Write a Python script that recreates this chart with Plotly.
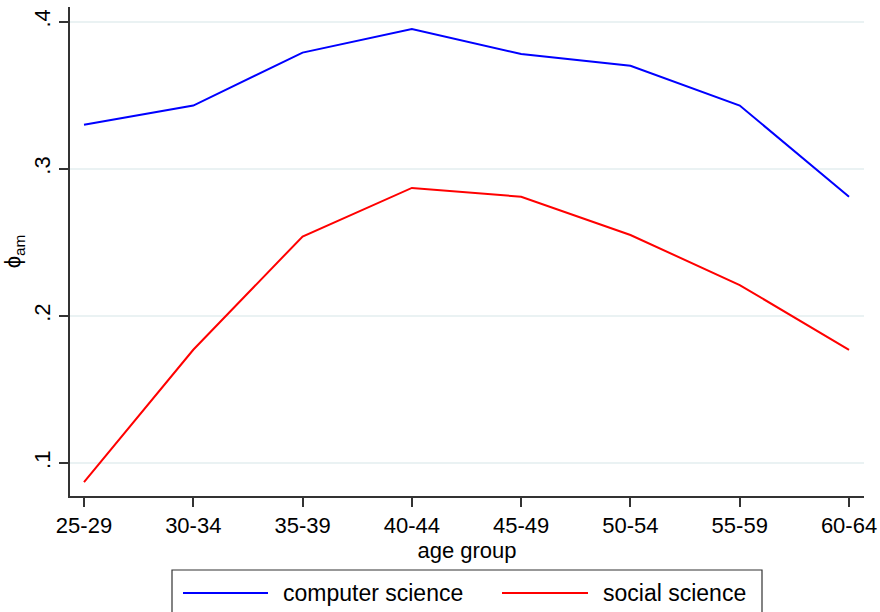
import plotly.graph_objects as go

age_groups = ["25-29", "30-34", "35-39", "40-44", "45-49", "50-54", "55-59", "60-64"]
computer_science = [0.330, 0.343, 0.379, 0.395, 0.378, 0.370, 0.343, 0.281]
social_science = [0.087, 0.177, 0.254, 0.287, 0.281, 0.255, 0.221, 0.177]
y_ticks = [0.1, 0.2, 0.3, 0.4]
y_tick_labels = [".1", ".2", ".3", ".4"]

W, H = 880, 612
L, R, T, B = 70, 16, 7, 116
FONT = "Liberation Sans, Arial, Helvetica, sans-serif"


def px(x):
    return (x - L) / (W - L - R)


def py(y):
    return (H - B - y) / (H - T - B)


fig = go.Figure()
fig.add_trace(go.Scatter(x=age_groups, y=computer_science, mode="lines",
                         name="computer science", line=dict(color="#0000ff", width=2),
                         showlegend=False))
fig.add_trace(go.Scatter(x=age_groups, y=social_science, mode="lines",
                         name="social science", line=dict(color="#ff0000", width=2),
                         showlegend=False))

# legend box drawn below the axis
fig.add_shape(type="rect", xref="paper", yref="paper",
              x0=px(172), x1=px(762), y0=py(570), y1=py(625),
              line=dict(color="#333333", width=1.2), fillcolor="white")
for name, color, lx0, lx1, tx in [("computer science", "#0000ff", 183, 268, 281),
                                  ("social science", "#ff0000", 502, 588, 601)]:
    fig.add_shape(type="line", xref="paper", yref="paper",
                  x0=px(lx0), x1=px(lx1), y0=py(593), y1=py(593),
                  line=dict(color=color, width=2))
    fig.add_annotation(xref="paper", yref="paper", x=px(tx), y=py(593),
                       text=name, showarrow=False, xanchor="left", yanchor="middle",
                       font=dict(family=FONT, size=23, color="black"))

fig.update_layout(
    width=W, height=H,
    margin=dict(l=L, r=R, t=T, b=B),
    paper_bgcolor="white", plot_bgcolor="white",
    font=dict(family=FONT, color="black"),
    showlegend=False,
    xaxis=dict(
        type="category", range=[-0.128, 7.137], automargin=False,
        showline=True, linecolor="#333333", linewidth=1.5,
        ticks="outside", ticklen=9, tickcolor="#333333", tickwidth=1.5,
        showgrid=False, zeroline=False,
        tickfont=dict(size=22, family=FONT),
        title=dict(text="age group", font=dict(size=22, family=FONT), standoff=2),
    ),
    yaxis=dict(
        range=[0.0776, 0.410], automargin=False,
        tickvals=y_ticks, ticktext=y_tick_labels, tickangle=-90,
        showline=True, linecolor="#333333", linewidth=1.5,
        ticks="outside", ticklen=9, tickcolor="#333333", tickwidth=1.5,
        showgrid=True, gridcolor="#eaf2f3", gridwidth=1.5, zeroline=False,
        tickfont=dict(size=22, family=FONT),
        title=dict(text="ϕ<sub>am</sub>", font=dict(size=22, family=FONT), standoff=6),
    ),
)

fig.write_html("out.html")
